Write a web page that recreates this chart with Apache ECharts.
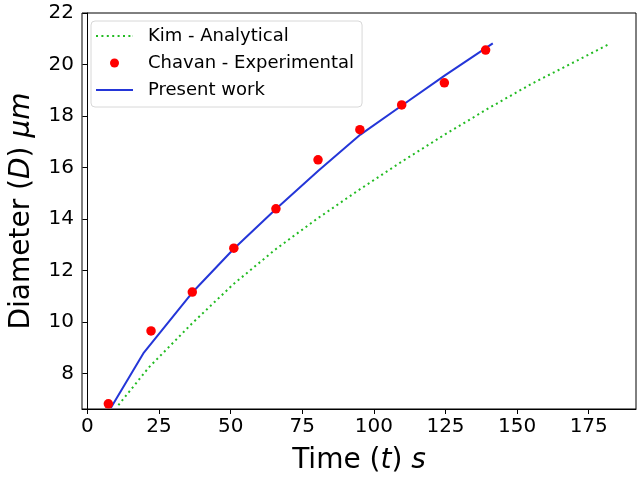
<!DOCTYPE html>
<html style="height: 100%">
<head>
  <meta charset="utf-8">
</head>
<body style="height: 100%; margin: 0; background: #fff;">
  <div id="container" style="width: 640px; height: 480px;"></div>
  <script type="text/javascript" src="https://cdn.jsdelivr.net/npm/echarts@6/dist/echarts.min.js"></script>
  <script type="text/javascript">
    // Chavan - Experimental
    var expTime = [7.3, 22.2, 36.6, 51.1, 65.8, 80.5, 95.1, 109.7, 124.6, 139.0];
    var expDiam = [6.83, 9.66, 11.17, 12.87, 14.40, 16.30, 17.47, 18.43, 19.29, 20.56];
    // Present work
    var modelTime = [8.2, 19.7, 36.6, 51.2, 65.9, 80.6, 95.3, 109.9, 124.8, 141.5];
    var modelDiam = [6.68, 8.82, 11.15, 12.86, 14.40, 15.88, 17.28, 18.42, 19.58, 20.82];
    // Kim - Analytical
    var kimTime = [10.8, 21.4, 36.6, 50.9, 65.7, 80, 95, 110, 125, 140, 155, 170, 182.2];
    var kimDiam = [6.78, 8.24, 9.96, 11.47, 12.83, 14.0, 15.15, 16.25, 17.3, 18.3, 19.25, 20.1, 20.8];

    var xTicks = [0, 25, 50, 75, 100, 125, 150, 175];
    var yTicks = [8, 10, 12, 14, 16, 18, 20, 22];

    function zip(xs, ys) {
      return xs.map(function (x, i) { return [x, ys[i]]; });
    }

    // legend icons drawn as paths: a dotted row and a solid bar
    var dotIcon = 'path://M0,0h2v2h-2z M5.4,0h2v2h-2z M10.8,0h2v2h-2z M16.2,0h2v2h-2z M21.6,0h2v2h-2z M27,0h2v2h-2z M32.4,0h2v2h-2z M36.8,0h0.2v2h-0.2z';
    var barIcon = 'path://M0,0h37v2h-37z';

    var dom = document.getElementById('container');
    var myChart = echarts.init(dom, null, { renderer: 'canvas' });

    var font = 'DejaVu Sans';
    var nameRich = {
      n: { fontSize: 28, fontFamily: font, color: '#000' },
      i: { fontSize: 28, fontFamily: font, fontStyle: 'italic', color: '#000' }
    };
    var green = '#22bb22', blue = '#2436d8', red = '#ff0000';

    var option = {
      backgroundColor: '#fff',
      animation: false,
      grid: {
        left: 82, right: 4, top: 13, bottom: 71,
        show: true, borderColor: '#000', borderWidth: 1,
        containLabel: false,
        outerBoundsMode: 'none'
      },
      legend: {
        orient: 'vertical',
        left: 91, top: 21,
        padding: [6, 8, 8, 5],
        backgroundColor: '#fff',
        borderColor: '#d8d8d8',
        borderWidth: 1,
        borderRadius: 4,
        itemWidth: 37,
        itemHeight: 9,
        itemGap: 9,
        textStyle: { fontFamily: font, fontSize: 18, color: '#000', padding: [0, 0, 0, 10] },
        data: [
          { name: 'Kim - Analytical', icon: dotIcon, itemStyle: { color: green, borderWidth: 0 } },
          { name: 'Chavan - Experimental', icon: 'circle', itemStyle: { color: red, borderWidth: 0 } },
          { name: 'Present work', icon: barIcon, itemStyle: { color: blue, borderWidth: 0 } }
        ]
      },
      xAxis: {
        type: 'value',
        min: -1.9, max: 191.5,
        name: '{n|Time (}{i|t}{n|) }{i|s}',
        nameLocation: 'middle',
        nameGap: 38,
        nameTextStyle: { rich: nameRich },
        axisLine: { show: true, lineStyle: { color: '#000', width: 1 } },
        axisTick: { show: true, length: 5, lineStyle: { color: '#000', width: 1 }, customValues: xTicks },
        axisLabel: { fontFamily: font, fontSize: 20, color: '#000', margin: 8, customValues: xTicks },
        splitLine: { show: false }
      },
      yAxis: {
        type: 'value',
        min: 6.63, max: 22,
        name: '{n|Diameter (}{i|D}{n|) }{i|μm}',
        nameLocation: 'middle',
        nameGap: 46,
        nameTextStyle: { rich: nameRich },
        axisLine: { show: true, lineStyle: { color: '#000', width: 1 } },
        axisTick: { show: true, length: 5, lineStyle: { color: '#000', width: 1 }, customValues: yTicks },
        axisLabel: { fontFamily: font, fontSize: 20, color: '#000', margin: 8, customValues: yTicks },
        splitLine: { show: false }
      },
      series: [
        {
          name: 'Kim - Analytical',
          type: 'line',
          data: zip(kimTime, kimDiam),
          showSymbol: false,
          symbol: 'none',
          lineStyle: { color: green, width: 2, type: [2, 3.4] },
          itemStyle: { color: green },
          z: 2
        },
        {
          name: 'Present work',
          type: 'line',
          data: zip(modelTime, modelDiam),
          showSymbol: false,
          symbol: 'none',
          lineStyle: { color: blue, width: 2 },
          itemStyle: { color: blue },
          z: 3
        },
        {
          name: 'Chavan - Experimental',
          type: 'scatter',
          data: zip(expTime, expDiam),
          symbol: 'circle',
          symbolSize: 9.5,
          itemStyle: { color: red, opacity: 1 },
          z: 4
        }
      ]
    };

    myChart.setOption(option);
    window.addEventListener('resize', myChart.resize);
  </script>
</body>
</html>
